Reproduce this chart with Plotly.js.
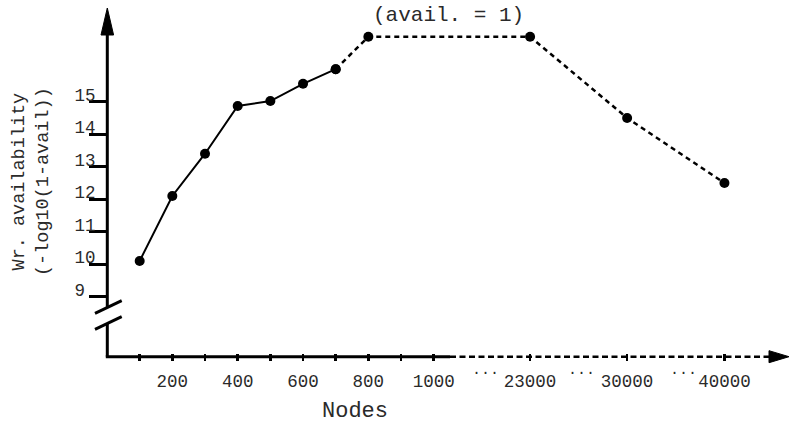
<!DOCTYPE html>
<html><head><meta charset="utf-8">
<script src="https://cdn.plot.ly/plotly-3.0.1.min.js"></script>
<style>html,body{margin:0;padding:0;background:#fff}#chart{width:790px;height:425px}</style>
</head><body><div id="chart"></div>
<script>
// ---- data ----
const nodes = [100, 200, 300, 400, 500, 600, 700, 800, 23000, 30000, 40000];
const availability = [10.1, 12.1, 13.4, 14.87, 15.02, 15.55, 16.0, 17.0, 17.0, 14.5, 12.5];
const solidUntil = 700;   // solid line up to this node count, dashed after
const tickNodes = [100, 200, 300, 400, 500, 600, 700, 800, 900, 1000, 23000, 30000, 40000];
const tickLabels = ['', '200', '', '400', '', '600', '', '800', '', '1000', '23000', '30000', '40000'];
const yTickVals = [9, 10, 11, 12, 13, 14, 15];
const yTickLabels = ['9\u00a0', '10', '11', '12', '13', '14', '15'];
const gapMarks = [1000, 23000, 30000, 40000]; // "..." drawn before each of the last three
const annotText = '(avail. = 1)';
const xTitle = 'Nodes';
const yTitle = 'Wr. availability<br>(-log10(1-avail))';

// ---- broken x axis: linear (unit = 100 nodes) up to 1000, fixed slots after ----
const brokenSlots = {23000: 12.95, 30000: 15.92, 40000: 18.9};
function axisPos(n) { return n <= 1000 ? n / 100 : brokenSlots[n]; }

const W = 790, H = 425;
const M = {l: 107, r: 2, t: 10, b: 72};
const PW = W - M.l - M.r, PH = H - M.t - M.b;
const px = x => (x - M.l) / PW;      // pixel -> paper
const py = y => (M.t + PH - y) / PH;

const FONT = 'Liberation Mono, Courier New, monospace';
const TXT = '#2a2a2a';

const iSplit = nodes.indexOf(solidUntil);
const solid = {
  x: nodes.slice(0, iSplit + 1).map(axisPos),
  y: availability.slice(0, iSplit + 1),
  mode: 'lines+markers', type: 'scatter',
  line: {color: '#000', width: 2},
  marker: {color: '#000', size: 10},
  cliponaxis: false, hoverinfo: 'skip'
};
const dashed = {
  x: nodes.slice(iSplit).map(axisPos),
  y: availability.slice(iSplit),
  mode: 'lines+markers', type: 'scatter',
  line: {color: '#000', width: 2.5, dash: '5px,4px'},
  marker: {color: '#000', size: 10},
  cliponaxis: false, hoverinfo: 'skip'
};

const axisY = 356.7, axisX = 107.3;
const shapes = [
  {type: 'line', xref: 'paper', yref: 'paper', x0: px(axisX - 1.5), y0: py(axisY), x1: px(450), y1: py(axisY), line: {color: '#000', width: 3}},
  {type: 'line', xref: 'paper', yref: 'paper', x0: px(450), y0: py(axisY), x1: px(770), y1: py(axisY), line: {color: '#000', width: 2.5, dash: '6px,3.5px'}},
  {type: 'path', xref: 'paper', yref: 'paper', fillcolor: '#000', line: {color: '#000', width: 1},
   path: `M ${px(769)} ${py(350.7)} L ${px(789)} ${py(axisY)} L ${px(769)} ${py(362.7)} Z`},
  {type: 'line', xref: 'paper', yref: 'paper', x0: px(axisX), y0: py(axisY), x1: px(axisX), y1: py(323.5), line: {color: '#000', width: 3}},
  {type: 'line', xref: 'paper', yref: 'paper', x0: px(axisX), y0: py(307.5), x1: px(axisX), y1: py(30), line: {color: '#000', width: 3}},
  {type: 'path', xref: 'paper', yref: 'paper', fillcolor: '#000', line: {color: '#000', width: 1},
   path: `M ${px(101)} ${py(35)} L ${px(axisX)} ${py(8)} L ${px(113.6)} ${py(35)} Z`},
  {type: 'line', xref: 'paper', yref: 'paper', x0: px(95), y0: py(313.3), x1: px(121.7), y1: py(300.7), line: {color: '#000', width: 3}},
  {type: 'line', xref: 'paper', yref: 'paper', x0: px(95), y0: py(329.3), x1: px(121.7), y1: py(316.7), line: {color: '#000', width: 3}}
];

const annotations = [
  {text: annotText, xref: 'paper', yref: 'paper', x: px(448), y: py(15), showarrow: false,
   xanchor: 'center', yanchor: 'middle', font: {family: FONT, size: 21, color: TXT}},
  {text: xTitle, xref: 'paper', yref: 'paper', x: px(355), y: py(411.7), showarrow: false,
   xanchor: 'center', yanchor: 'middle', font: {family: FONT, size: 22, color: TXT}},
  {text: yTitle, xref: 'paper', yref: 'paper', x: px(31), y: py(182), showarrow: false,
   textangle: -90, xanchor: 'center', yanchor: 'middle',
   font: {family: FONT, size: 18.5, color: TXT}}
];
const dotFrac = [0.54, 0.53, 0.575];
for (let k = 0; k < gapMarks.length - 1; k++) {
  const a = axisPos(gapMarks[k]), b = axisPos(gapMarks[k + 1]);
  annotations.push({text: '...', xref: 'x', yref: 'paper',
    x: a + (b - a) * dotFrac[k], y: py(370.5), showarrow: false,
    xanchor: 'center', yanchor: 'middle', font: {family: FONT, size: 15, color: TXT}});
}

const layout = {
  width: W, height: H, margin: M,
  paper_bgcolor: '#fff', plot_bgcolor: '#fff',
  showlegend: false,
  font: {family: FONT, color: TXT},
  xaxis: {
    range: [0, PW / 32.67], showgrid: false, zeroline: false, showline: false,
    tickmode: 'array', tickvals: tickNodes.map(axisPos), ticktext: tickLabels,
    ticks: 'outside', ticklen: 7, tickwidth: 2.5, tickcolor: '#000',
    ticklabelstandoff: 5,
    tickfont: {family: FONT, size: 17.5, color: TXT}, fixedrange: true
  },
  yaxis: {
    range: [(589.2 - (M.t + PH)) / 32.5, (589.2 - M.t) / 32.5],
    showgrid: false, zeroline: false, showline: false,
    tickmode: 'array', tickvals: yTickVals, ticktext: yTickLabels,
    ticks: 'outside', ticklen: 17, tickwidth: 3, tickcolor: '#000',
    ticklabelshift: -7, ticklabelstandoff: -10,
    tickfont: {family: FONT, size: 17.5, color: TXT},
    fixedrange: true
  },
  shapes: shapes,
  annotations: annotations
};

Plotly.newPlot('chart', [solid, dashed], layout, {displayModeBar: false, staticPlot: true});
</script>
</body></html>
